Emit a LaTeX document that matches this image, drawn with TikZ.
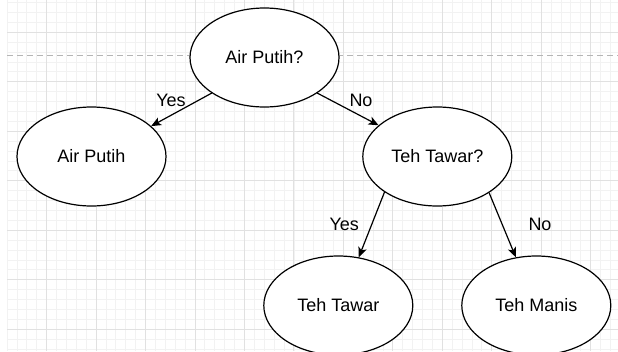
\documentclass[tikz,border=0pt]{standalone}
\usepackage{fontspec}
\setmainfont{Liberation Sans}
\usetikzlibrary{arrows.meta,shapes.geometric}
\definecolor{gridminor}{HTML}{F2F2F2}
\definecolor{gridmajor}{HTML}{E1E1E1}
\definecolor{guidegray}{HTML}{B5B5B5}
\begin{document}
\begin{tikzpicture}[x=1pt,y=-1pt,
  state/.style={ellipse, draw=black, line width=1.2pt, fill=white,
    minimum width=149pt, minimum height=99pt, inner sep=0pt,
    font=\fontsize{18}{21}\selectfont},
  edgelabel/.style={inner sep=0pt, font=\fontsize{18}{21}\selectfont},
  flow/.style={line width=1.2pt, -{Stealth[length=10pt,width=8.5pt,inset=2.5pt]}},
  fine/.style={gridminor, line width=0.9pt},
  coarse/.style={gridmajor, line width=1pt}]
\useasboundingbox (0,0) rectangle (618,351);
\clip (0,0) rectangle (618,351);
\fill[white] (0,0) rectangle (618,351);

% background grid: fine lines, then every fifth line darker
\foreach \i in {0,...,61}
  \draw[fine] ({7.14+9.89*\i},0) -- ({7.14+9.89*\i},351);
\foreach \j in {0,...,35}
  \draw[fine] (7,{2.6+9.9*\j}) -- (618,{2.6+9.9*\j});
\foreach \i in {0,...,11}
  \draw[coarse] ({46.7+49.45*\i},0) -- ({46.7+49.45*\i},351);
\foreach \j in {0,...,6}
  \draw[coarse] (7,{32.3+49.5*\j}) -- (618,{32.3+49.5*\j});

% dashed guide line behind the root node
\coordinate (gl) at (7,55.7);
\coordinate (gr) at (618,55.7);
\draw[guidegray, line width=1.3pt, dash pattern=on 5.6pt off 4.4pt] (gl) -- (gr);

% decision tree
\node[state] (q1) at (264.5,57.5) {Air Putih?};
\node[state] (r1) at (91.5,156.5) {Air Putih};
\node[state] (q2) at (437.3,156.5) {Teh Tawar?};
\node[state] (r2) at (338.3,305.5) {Teh Tawar};
\node[state] (r3) at (536.3,305.5) {Teh Manis};

\draw[flow] (q1.214) -- (r1.27.5);
\draw[flow] (q1.326) -- (q2.152.8);
\draw[flow] (q2.214.4) -- (r2.67);
\draw[flow] (q2.325.8) -- (r3.113);

\node[edgelabel] (l1) at (171,100) {Yes};
\node[edgelabel] (l2) at (361,100) {No};
\node[edgelabel] (l3) at (344.3,224.7) {Yes};
\node[edgelabel] (l4) at (540,224.7) {No};
\end{tikzpicture}
\end{document}
